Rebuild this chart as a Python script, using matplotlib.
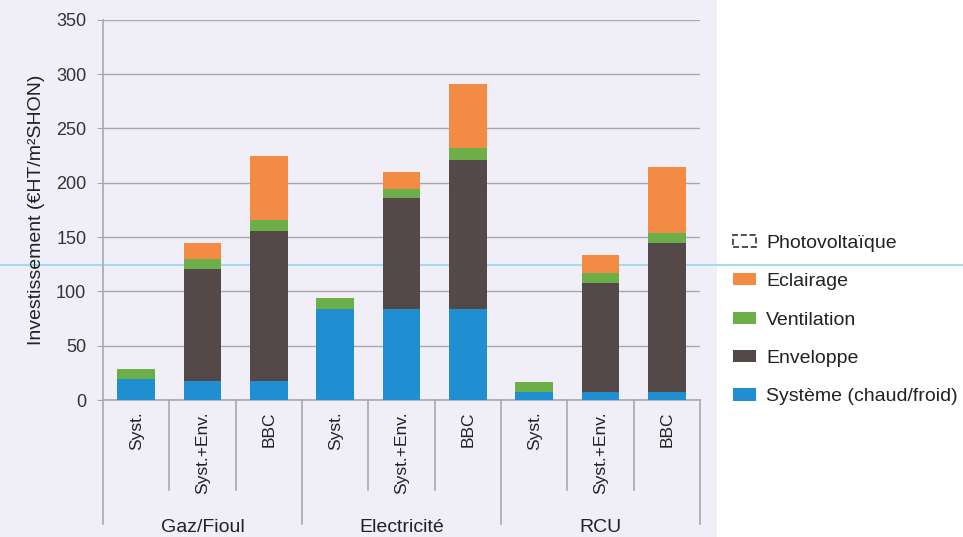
import matplotlib
matplotlib.use("Agg")
import matplotlib.pyplot as plt
from matplotlib.patches import Patch, Rectangle
from matplotlib.lines import Line2D
import matplotlib.transforms as mtransforms

plt.rcParams['font.family'] = ['Liberation Sans', 'DejaVu Sans']

groups = ["Gaz/Fioul", "Electricité", "RCU"]
scenarios = ["Syst.", "Syst.+Env.", "BBC"]
categories = [s for g in groups for s in scenarios]

systeme = [19, 18, 18, 84, 84, 84, 7, 7, 7]
enveloppe = [0, 103, 138, 0, 102, 137, 0, 101, 138]
ventilation = [10, 9, 10, 10, 8, 11, 10, 9, 9]
eclairage = [0, 15, 59, 0, 16, 59, 0, 17, 61]
photovoltaique = [0, 0, 0, 0, 0, 0, 0, 0, 0]

yticks = [0, 50, 100, 150, 200, 250, 300, 350]

c_sys = "#1f8fd2"
c_env = "#544948"
c_ven = "#6caf49"
c_ecl = "#f48b45"
grid_c = "#a9a7b0"
bg = "#f0eef6"

fig = plt.figure(figsize=(9.63, 5.37), dpi=100)
fig.patch.set_facecolor("white")
fig.patches.append(Rectangle((0, 0), 0.745, 1, transform=fig.transFigure,
                             facecolor=bg, edgecolor="none", zorder=-10))
fig.lines.append(Line2D([0, 1], [1 - 265 / 537, 1 - 265 / 537], transform=fig.transFigure,
                        color="#a6d8ee", linewidth=1.5, zorder=-5))

ax = fig.add_axes([0.107, 0.255, 0.62, 0.708])
ax.set_facecolor("none")

x = list(range(len(categories)))
w = 0.57
b1 = systeme
b2 = [a + b for a, b in zip(b1, enveloppe)]
b3 = [a + b for a, b in zip(b2, ventilation)]
b4 = [a + b for a, b in zip(b3, eclairage)]
ax.bar(x, systeme, w, color=c_sys, zorder=3)
ax.bar(x, enveloppe, w, bottom=b1, color=c_env, zorder=3)
ax.bar(x, ventilation, w, bottom=b2, color=c_ven, zorder=3)
ax.bar(x, eclairage, w, bottom=b3, color=c_ecl, zorder=3)
ax.bar(x, photovoltaique, w, bottom=b4, facecolor="none", edgecolor="none", zorder=3)

ax.set_xlim(-0.5, len(categories) - 0.5)
ax.set_ylim(0, 350)
ax.set_yticks(yticks)
ax.set_yticklabels([str(v) for v in yticks], fontsize=13, color="#333333")
ax.tick_params(axis="y", length=4, color=grid_c, pad=8)
ax.yaxis.grid(True, color=grid_c, linewidth=1.0, zorder=0)
for s in ["top", "right"]:
    ax.spines[s].set_visible(False)
ax.spines["left"].set_color(grid_c)
ax.spines["bottom"].set_color(grid_c)
ax.spines["left"].set_linewidth(1.2)
ax.spines["bottom"].set_linewidth(1.2)

ax.set_xticks(x)
ax.set_xticklabels(categories, rotation=90, fontsize=12.5, color="#222222", va="top")
ax.tick_params(axis="x", length=0, pad=8)

ax.set_ylabel("Investissement (€HT/m²SHON)", fontsize=14, color="#222222", labelpad=8)

trans = mtransforms.blended_transform_factory(ax.transData, ax.transAxes)
for i in range(len(categories) + 1):
    xs = i - 0.5
    long_line = (i % 3 == 0)
    y1 = -0.325 if long_line else -0.237
    ax.add_line(Line2D([xs, xs], [0, y1], transform=trans, color=grid_c,
                       linewidth=1.2, clip_on=False))

for gi, g in enumerate(groups):
    ax.text(gi * 3 + 1, -0.335, g, transform=trans, ha="center", va="center",
            fontsize=14, color="#222222")

handles = [
    Patch(facecolor="none", edgecolor="#333333", linestyle="--", linewidth=1.2, label="Photovoltaïque"),
    Patch(facecolor=c_ecl, edgecolor="none", label="Eclairage"),
    Patch(facecolor=c_ven, edgecolor="none", label="Ventilation"),
    Patch(facecolor=c_env, edgecolor="none", label="Enveloppe"),
    Patch(facecolor=c_sys, edgecolor="none", label="Système (chaud/froid)"),
]
leg = fig.legend(handles=handles, loc="upper left", bbox_to_anchor=(0.761, 0.563),
                 frameon=False, fontsize=14, handlelength=1.2, handleheight=0.6,
                 labelspacing=1.1, handletextpad=0.5, borderaxespad=0,
                 borderpad=0)
for t in leg.get_texts():
    t.set_color("#222222")

fig.savefig("out.png", dpi=100, facecolor=fig.get_facecolor())
